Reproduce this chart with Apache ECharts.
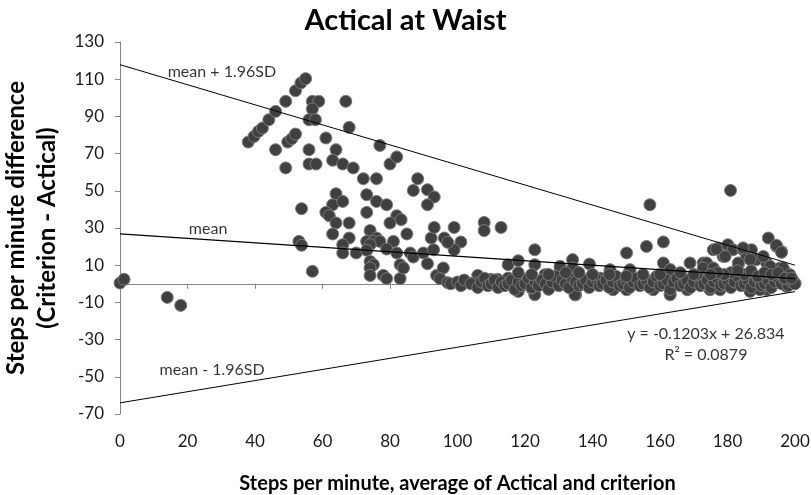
<!DOCTYPE html>
<html>
<head>
<meta charset="utf-8">
<title>Actical at Waist</title>
<script src="https://cdn.jsdelivr.net/npm/echarts@6.0.0/dist/echarts.min.js"></script>
<style>
  html, body { margin: 0; padding: 0; background: #fff; }
  #chart { width: 811px; height: 495px; }
</style>
</head>
<body>
<div id="chart"></div>
<script>
// x = average steps/min, y = difference (criterion - Actical)
const scatterPoints = [
  [0, 0.4], [1.2, 2.4], [14, -7.3], [18, -11.6],
  [38, 76.2], [39.7, 79.2], [41, 81.9], [42.2, 83.7], [44.1, 88.2], [46.1, 92.7], [49.1, 98.1],
  [46.1, 72.1], [49.1, 62.3], [49.7, 76.2], [50.9, 78], [52, 80.5], [52, 103.8], [53.6, 108], [55, 110.3],
  [57, 98.1], [58.9, 98.1], [57, 94], [56, 88.2], [57.9, 88.2], [66.9, 98.1], [67.9, 84.1],
  [56, 72.1], [56, 64.4], [58.1, 64.4], [61, 78.4], [64, 72.1], [63, 66.4], [66, 64.4], [69.1, 62.3],
  [72.1, 56.5], [76, 56.5], [77, 74.4], [80, 64.4], [82, 68.2], [88.2, 56.5], [86.9, 50.2], [91.1, 50.6],
  [93.1, 46.7], [91.1, 42.5], [64, 48.4], [63, 42.5], [66, 44.3], [61, 38.4], [62, 36.6], [64, 32.7],
  [67.9, 32.7], [63, 26.8], [67.9, 24.6], [66, 21], [66, 16.6], [70, 16.6], [73.1, 47.9], [73.1, 38.4],
  [76, 44.3], [79, 42.5], [82, 36.6], [83.3, 34.5], [80, 32.7], [85, 26.8], [74.1, 28.6], [76, 24.6],
  [73.1, 22.8], [75.1, 22.8], [77, 22.8], [81, 22.8], [74.1, 21], [73.1, 18], [79, 18.7], [82, 16.6],
  [86, 16.6], [86.9, 14.4], [89.9, 16.6], [92.9, 18.3], [92.2, 24.6], [93.1, 30.3], [96.1, 24.6],
  [91.1, 10.8], [74.1, 12], [75.1, 10.3], [74.1, 8.5], [74.1, 4.5], [78, 4.5], [79, 2.8], [83, 2.8],
  [83, 10.3], [84, 8.5], [93.8, 4.5], [95.8, 8.5], [94.8, 2.8], [53, 22.8], [53.8, 20.7], [53.8, 40.4],
  [57, 6.7],
  [107.9, 33], [107.9, 28.6], [112.9, 30.3], [101, 22.5], [99, 30.3], [99, 18.3], [97.1, 22.3],
  [97.1, 0.6], [103, 0.6], [106, 4.5], [105, 0.6], [109.9, 2.4], [111.9, 2.4], [112.9, 0.6],
  [115, 10.3], [118, 12.4], [115, 3.1], [118, 4], [117, 2.4], [118, -4.1], [122.9, 18.3], [122.9, 10.3],
  [120.5, 2.4], [122.9, -5.9], [121.9, -2.3], [125.9, 4.9], [126.9, 2.4], [128.9, 2.2], [130.4, 8.5],
  [134.1, 13], [134.1, 8.5], [132.3, 3.1], [135, 3.1], [135, -5.9], [139.1, 10.6], [137.1, 2.4],
  [140.2, 0.6], [142.2, 3.1], [145.2, 6.7], [146.1, -3.2], [150.1, 16.6], [151.1, 6.7], [150.1, -3.2],
  [153.1, 1.3], [156, 20.1], [157, 42.5], [158, -3.2], [161, 22.5], [161, 11.2], [163, 7.6], [160, 2.4],
  [163, -5], [165.9, 4], [168.9, 11.2], [168.1, -3.2], [171.9, 3.1], [172.8, 11.2], [175.8, 18.3],
  [177.3, 19.2], [178.7, 14.7], [174.8, -3.2], [177.8, -3.2], [180.9, 50.2], [180.1, 21], [181.6, 18.3],
  [184.6, 18.3], [187.1, 18.3], [183.2, 10.3], [185.7, 14.7], [188.6, 13], [192.1, 24.6], [194.5, 20.1],
  [196, 17.4], [191.6, 11.2], [195.5, 8.5], [197.5, 5.8], [189.6, 2.4], [199.5, 1.3], [200, 0.4],
  [186.7, -3.2], [191.6, -3.2], [197.5, -1.4],
  [173.8, 11.2], [176.7, 18.7], [184.6, 19.3], [194.5, 20.7], [196, 16.9], [179.3, 14.7], [183.2, 11.2],
  [186.7, 13], [190.6, 14.7], [192.6, 9.4], [196.5, 8.5], [198.5, 4.9], [130.4, 9.4], [145.2, 7.6],
  [151.1, 7.6], [163, 7.6], [172.8, 8.5], [175.8, 8.5], [134.8, -5.9], [163, -5.9], [186.7, -4.1],
  [189.6, -3.2],
  [98, 0], [100, 1], [101, -1], [102, 2], [104, 0], [106, -2], [107, 1], [108, 3], [109, -1], [110, 0],
  [111, 2], [112, -2], [113, 1], [114, -1], [115, 0], [116, 2], [117, -3], [118, 1], [119, -1], [120, 0],
  [121, 3], [122, -2], [123, 1], [124, -1], [125, 2], [126, 0], [127, -3], [128, 1], [129, 4], [130, -1],
  [131, 2], [132, 0], [133, -2], [134, 3], [135, 1], [136, -1], [137, 0], [138, 2], [139, -2], [140, 1],
  [141, 3], [142, -1], [143, 0], [144, 2], [145, -2], [146, 1], [147, 4], [148, -1], [149, 0], [150, 2],
  [151, -2], [152, 1], [153, 3], [154, -1], [155, 0], [156, 2], [157, -2], [158, 1], [159, 4], [160, -1],
  [161, 0], [162, 2], [163, -3], [164, 1], [165, 3], [166, -1], [167, 0], [168, 2], [169, -2], [170, 1],
  [171, 4], [172, -1], [173, 0], [174, 2], [175, -2], [176, 1], [177, 3], [178, -1], [179, 0], [180, 2],
  [181, -2], [182, 1], [183, 4], [184, -1], [185, 0], [186, 2], [187, -2], [188, 1], [189, 3], [190, -1],
  [191, 0], [192, 2], [193, -2], [194, 1], [195, 3], [196, 0], [197, 2], [198, -1], [199, 1], [200, 0],
  [185, 5], [187, 7], [189, 4], [191, 6], [193, 5], [195, 6], [197, 3], [199, 3], [181, 6], [183, 7],
  [179, 5], [177, 6], [175, 5], [170, 5], [166, 6], [160, 5], [155, 5], [150, 4], [145, 5], [140, 5],
  [136, 6], [132, 6], [127, 5], [122, 5], [118, 6]
];

// regression and limits of agreement (end points at x = 0 and x = 200)
const meanLine = [[0, 26.834], [200, 2.774]];
const upperLine = [[0, 117.8], [200, 10]];
const lowerLine = [[0, -64], [200, -4.2]];

// text labels placed in data units
const lineLabels = [
  { value: [30.2, 114], name: 'mean + 1.96SD' },
  { value: [26.1, 29.6], name: 'mean' },
  { value: [27.3, -46.1], name: 'mean - 1.96SD' },
  { value: [173.6, -26.8], name: 'y = -0.1203x + 26.834' },
  { value: [173.6, -38.0], name: 'R² = 0.0879' }
];

const xTicks = { min: 0, max: 200, interval: 20 };
const yTicks = { min: -70, max: 130, interval: 20 };

const FONT = 'Lato, "Open Sans", sans-serif';
const axisGray = '#868686';

const chart = echarts.init(document.getElementById('chart'), null, { renderer: 'canvas' });

const lineSeries = (data, width) => ({
  type: 'line',
  data: data,
  symbol: 'none',
  silent: true,
  z: 3,
  lineStyle: { color: '#000', width: width },
  animation: false
});

chart.setOption({
  animation: false,
  title: {
    text: 'Actical at Waist',
    left: 'center',
    top: 1,
    textStyle: { fontFamily: FONT, fontWeight: 'bold', fontSize: 29, color: '#000' }
  },
  grid: { left: 120, right: 16, top: 42, bottom: 81, outerBoundsMode: 'none', containLabel: false },
  xAxis: {
    type: 'value',
    min: xTicks.min, max: xTicks.max, interval: xTicks.interval,
    name: 'Steps per minute, average of Actical and criterion',
    nameLocation: 'middle',
    nameGap: 60,
    nameTextStyle: { fontFamily: FONT, fontWeight: 'bold', fontSize: 20, color: '#000' },
    axisLine: { lineStyle: { color: axisGray, width: 1 } },
    axisTick: { show: true, length: 5, lineStyle: { color: axisGray } },
    axisLabel: { fontFamily: FONT, fontSize: 17, color: '#1a1a1a', margin: 19 },
    splitLine: { show: false }
  },
  yAxis: {
    type: 'value',
    min: yTicks.min, max: yTicks.max, interval: yTicks.interval,
    name: 'Steps per minute difference\n(Criterion - Actical)',
    nameLocation: 'middle',
    nameGap: 57,
    nameTextStyle: { fontFamily: FONT, fontWeight: 'bold', fontSize: 24, lineHeight: 31, color: '#000' },
    axisLine: { show: true, lineStyle: { color: axisGray, width: 1 } },
    axisTick: { show: true, length: 5, lineStyle: { color: axisGray } },
    axisLabel: { fontFamily: FONT, fontSize: 17, color: '#1a1a1a', margin: 16 },
    splitLine: { show: false }
  },
  series: [
    {
      type: 'scatter',
      data: scatterPoints,
      symbolSize: 12,
      z: 2,
      itemStyle: { color: '#404040', borderColor: '#7a7a7a', borderWidth: 1, opacity: 1 }
    },
    lineSeries(upperLine, 1),
    lineSeries(meanLine, 1.4),
    lineSeries(lowerLine, 1),
    {
      type: 'scatter',
      data: lineLabels,
      symbolSize: 0,
      silent: true,
      z: 4,
      label: {
        show: true,
        position: 'inside',
        formatter: p => p.name,
        fontFamily: FONT,
        fontSize: 16,
        color: '#000'
      }
    }
  ]
});
</script>
</body>
</html>
